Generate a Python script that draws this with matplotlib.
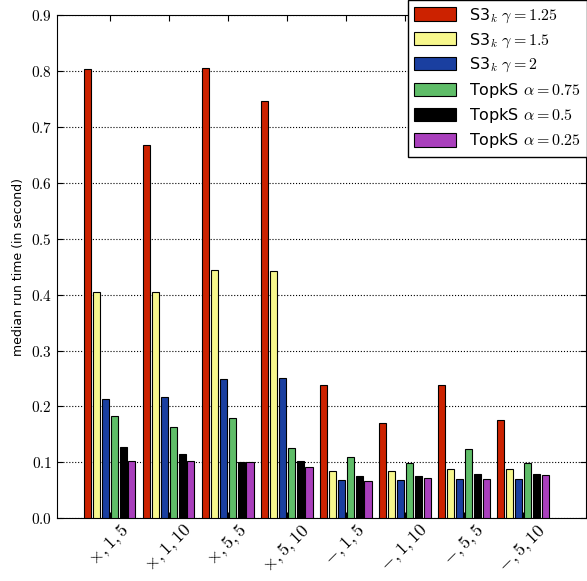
import numpy as np
import matplotlib.pyplot as plt

plt.rcParams['mathtext.fontset'] = 'cm'

# Datos
groups = [r'$\times,1,5$', r'$\times,1,10$', r'$\times,5,5$', r'$\times,5,10$',
          r'$-,1,5$', r'$-,1,10$', r'$-,5,5$', r'$-,5,10$']
labels = [r'S3$_k$ $\gamma = 1.25$', r'S3$_k$ $\gamma = 1.5$', r'S3$_k$ $\gamma = 2$',
          r'TopkS $\alpha = 0.75$', r'TopkS $\alpha = 0.5$', r'TopkS $\alpha = 0.25$']
colors = ['#cc2200', '#f7f78c', '#1a3fa0', '#5fbd68', '#000000', '#a93fbc']

s3k_125 = [0.803, 0.667, 0.806, 0.746, 0.238, 0.171, 0.239, 0.176]
s3k_15 = [0.405, 0.404, 0.444, 0.442, 0.085, 0.085, 0.088, 0.088]
s3k_2 = [0.213, 0.216, 0.249, 0.251, 0.068, 0.068, 0.071, 0.071]
topks_075 = [0.183, 0.163, 0.180, 0.126, 0.109, 0.098, 0.123, 0.099]
topks_05 = [0.128, 0.115, 0.100, 0.103, 0.075, 0.075, 0.080, 0.079]
topks_025 = [0.103, 0.102, 0.100, 0.092, 0.067, 0.072, 0.070, 0.077]
series = [s3k_125, s3k_15, s3k_2, topks_075, topks_05, topks_025]

fig = plt.figure(figsize=(5.87, 5.81), dpi=100)
ax = fig.add_axes([0.097, 0.108, 0.901, 0.866])

x = np.arange(len(groups))
step = 0.15
width = 0.12
for j, (vals, lab, col) in enumerate(zip(series, labels, colors)):
    ax.bar(x + j * step, vals, width, align='edge', color=col,
           edgecolor='black', linewidth=0.8, label=lab, zorder=3)

ax.set_xlim(-0.46, 8.5)
ax.set_ylim(0, 0.9)
ax.set_xticks(x + 0.435)
ax.set_xticklabels(groups, rotation=45, fontsize=13)
ax.set_yticks(np.arange(0, 0.91, 0.1))
ax.set_yticklabels([f'${v:.1f}$' for v in np.arange(0, 0.91, 0.1)], fontsize=11)
ax.tick_params(direction='in', top=True, right=True, length=4)
ax.tick_params(axis='x', pad=2)
ax.yaxis.grid(True, linestyle=':', color='black', linewidth=0.8)
ax.set_ylabel('median run time (in second)', fontsize=9)

leg = ax.legend(loc='upper right', bbox_to_anchor=(1.002, 1.03), fontsize=11.5,
                fancybox=False, framealpha=1, edgecolor='black',
                handlelength=2.6, handleheight=0.9, labelspacing=0.4,
                borderaxespad=0)
leg.get_frame().set_linewidth(1.0)

fig.savefig('out.png', dpi=100, facecolor='white')
